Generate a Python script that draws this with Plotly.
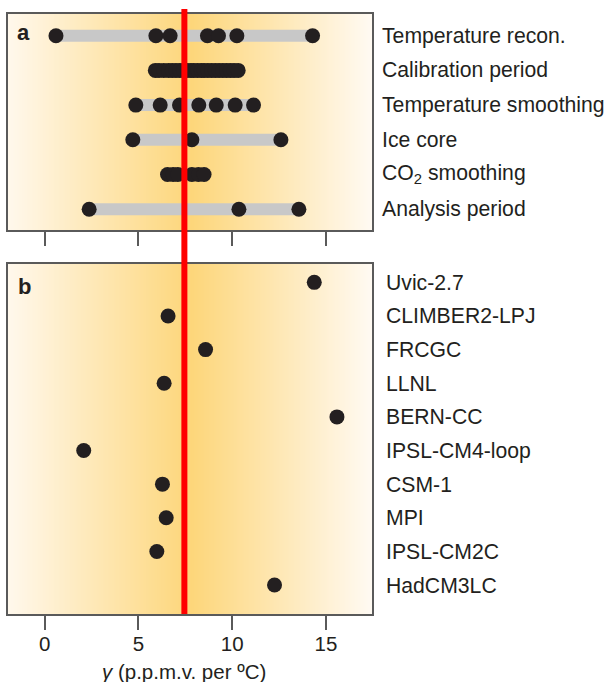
import numpy as np
import plotly.graph_objects as go

# ---------------- data ----------------
rows_a = ["Temperature recon.", "Calibration period", "Temperature smoothing",
          "Ice core", "CO<sub>2</sub> smoothing", "Analysis period"]
temp_recon = [0.6, 5.93, 6.69, 8.68, 9.27, 10.25, 14.29]
calibration = [5.9, 6.1, 6.35, 6.6, 6.8, 7.0, 7.2, 7.4, 7.6, 7.8, 7.95, 8.15,
               8.35, 8.5, 8.7, 8.9, 9.1, 9.3, 9.5, 9.7, 9.9, 10.1, 10.32]
temp_smooth = [4.86, 6.16, 7.19, 8.22, 9.15, 10.16, 11.14]
ice_core = [4.70, 7.85, 12.6]
co2_smooth = [6.55, 6.85, 7.1, 7.85, 8.2, 8.5]
analysis = [2.37, 10.36, 13.56]
values_a = [temp_recon, calibration, temp_smooth, ice_core, co2_smooth, analysis]

models_b = ["Uvic-2.7", "CLIMBER2-LPJ", "FRCGC", "LLNL", "BERN-CC",
            "IPSL-CM4-loop", "CSM-1", "MPI", "IPSL-CM2C", "HadCM3LC"]
gamma_b = [14.38, 6.58, 8.58, 6.37, 15.59, 2.08, 6.28, 6.48, 5.98, 12.26]

best_estimate = 7.45
x_ticks = [0, 5, 10, 15]

# ---------------- style ----------------
W, H = 610, 682
XR = [-1.96, 17.46]
DARK = "#231F20"
GREY = "#C8C8C8"
FRAME = "#5a5a5a"
FONT = "Liberation Sans, Arial, sans-serif"
FS = 21.2

def py(pix):
    return 1 - pix / H

x_dom = [8 / W, 372 / W]
ya_dom = [py(230), py(14)]
yb_dom = [py(614), py(264)]
ya_range = [5.6, -0.625]
yb_range = [9.86, -0.545]

fig = go.Figure()

# background gradient (heatmap) for each panel
peak = 7.8
zmin, zmax = XR
cs = [[0.0, "#FFF8EC"],
      [(peak - zmin) / (zmax - zmin), "#FDD67A"],
      [1.0, "#FFFAF3"]]
gx = np.linspace(zmin, zmax, 300)
for xa, ya, yr in [("x", "y", ya_range), ("x2", "y2", yb_range)]:
    fig.add_trace(go.Heatmap(
        x=gx, y=[min(yr) - 1, max(yr) + 1], z=[gx, gx],
        zmin=zmin, zmax=zmax, colorscale=cs, showscale=False,
        zsmooth="best", hoverinfo="skip", xaxis=xa, yaxis=ya))

# panel a: grey range bars and dots
for i, vals in enumerate(values_a):
    fig.add_trace(go.Scatter(
        x=[min(vals), max(vals)], y=[i, i], mode="lines",
        line=dict(color=GREY, width=12), showlegend=False,
        hoverinfo="skip", xaxis="x", yaxis="y"))
for i, vals in enumerate(values_a):
    fig.add_trace(go.Scatter(
        x=vals, y=[i] * len(vals), mode="markers",
        marker=dict(color=DARK, size=15, line=dict(width=0)),
        showlegend=False, xaxis="x", yaxis="y"))

# panel b: dots
fig.add_trace(go.Scatter(
    x=gamma_b, y=list(range(len(models_b))), mode="markers",
    marker=dict(color=DARK, size=15, line=dict(width=0)),
    showlegend=False, xaxis="x2", yaxis="y2"))

# red best-estimate line spanning both panels
fig.add_shape(type="line", xref="x", yref="paper",
              x0=best_estimate, x1=best_estimate, y0=py(614), y1=py(9),
              line=dict(color="#FF0000", width=6), layer="above")

# row labels
for i, lab in enumerate(rows_a):
    fig.add_annotation(text=lab, x=380 / W, xref="paper", xanchor="left",
                       y=i, yref="y", yanchor="middle", showarrow=False,
                       font=dict(family=FONT, size=FS, color=DARK))
for i, lab in enumerate(models_b):
    fig.add_annotation(text=lab, x=384 / W, xref="paper", xanchor="left",
                       y=i, yref="y2", yanchor="middle", showarrow=False,
                       font=dict(family=FONT, size=FS, color=DARK))

# panel letters
fig.add_annotation(text="<b>a</b>", x=23 / W, y=py(33), xref="paper", yref="paper",
                   xanchor="center", yanchor="middle",
                   showarrow=False, font=dict(family=FONT, size=22, color=DARK))
fig.add_annotation(text="<b>b</b>", x=24 / W, y=py(286), xref="paper", yref="paper",
                   xanchor="center", yanchor="middle",
                   showarrow=False, font=dict(family=FONT, size=22, color=DARK))

# axis title
fig.add_annotation(text="<i>γ</i> (p.p.m.v. per ºC)", x=184 / W, y=py(671),
                   xref="paper", yref="paper", xanchor="center", yanchor="middle",
                   showarrow=False, font=dict(family=FONT, size=20.5, color=DARK))

axis_common = dict(range=XR, showline=True, linecolor=FRAME, linewidth=1.5,
                   mirror=True, ticks="outside", ticklen=14, tickwidth=1.5,
                   tickcolor=FRAME, tickvals=x_ticks, showgrid=False,
                   zeroline=False, domain=x_dom)
fig.update_layout(
    width=W, height=H, margin=dict(l=0, r=0, t=0, b=0),
    paper_bgcolor="white", plot_bgcolor="white", showlegend=False,
    font=dict(family=FONT, size=FS, color=DARK),
    xaxis=dict(**axis_common, anchor="y", showticklabels=False),
    xaxis2=dict(**axis_common, anchor="y2", showticklabels=True,
                ticklabelstandoff=-3,
                tickfont=dict(family=FONT, size=20.5, color=DARK)),
    yaxis=dict(domain=ya_dom, range=ya_range, showline=True, linecolor=FRAME,
               linewidth=1.5, mirror=True, showticklabels=False, ticks="",
               showgrid=False, zeroline=False, anchor="x"),
    yaxis2=dict(domain=yb_dom, range=yb_range, showline=True, linecolor=FRAME,
                linewidth=1.5, mirror=True, showticklabels=False, ticks="",
                showgrid=False, zeroline=False, anchor="x2"),
)

fig.write_html("out.html")
